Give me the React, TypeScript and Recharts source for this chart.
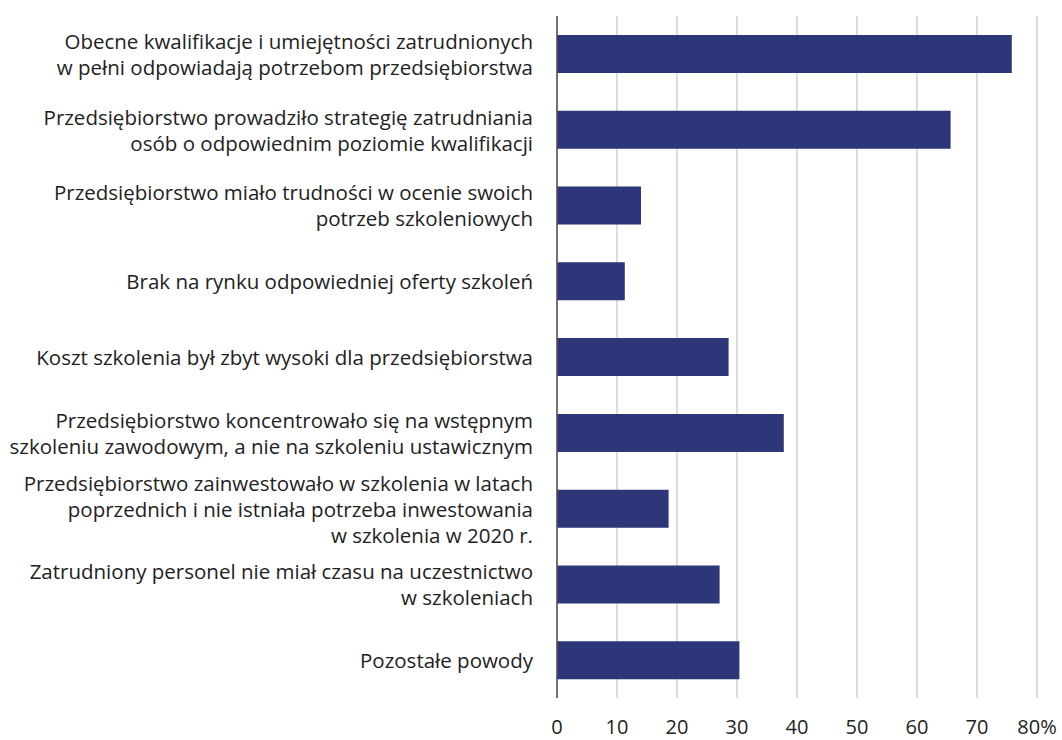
import React from 'react';
import { BarChart, Bar, XAxis, YAxis, CartesianGrid } from 'recharts';

const categories: string[] = [
  'Obecne kwalifikacje i umiejętności zatrudnionych\nw pełni odpowiadają potrzebom przedsiębiorstwa',
  'Przedsiębiorstwo prowadziło strategię zatrudniania\nosób o odpowiednim poziomie kwalifikacji',
  'Przedsiębiorstwo miało trudności w ocenie swoich\npotrzeb szkoleniowych',
  'Brak na rynku odpowiedniej oferty szkoleń',
  'Koszt szkolenia był zbyt wysoki dla przedsiębiorstwa',
  'Przedsiębiorstwo koncentrowało się na wstępnym\nszkoleniu zawodowym, a nie na szkoleniu ustawicznym',
  'Przedsiębiorstwo zainwestowało w szkolenia w latach\npoprzednich i nie istniała potrzeba inwestowania\nw szkolenia w 2020 r.',
  'Zatrudniony personel nie miał czasu na uczestnictwo\nw szkoleniach',
  'Pozostałe powody',
];

const values: number[] = [75.8, 65.6, 14.0, 11.3, 28.6, 37.8, 18.6, 27.1, 30.4];

const xTicks: number[] = [0, 10, 20, 30, 40, 50, 60, 70, 80];

const data = categories.map((name, i) => ({ name, value: values[i] }));

const FONT = '"Open Sans", "Noto Sans", sans-serif';
const TEXT = '#222222';

const CategoryTick = (props: any) => {
  const { x, y, payload } = props;
  const lines: string[] = String(payload.value).split('\n');
  const lh = 26;
  const start = -((lines.length - 1) * lh) / 2 + 8;
  return (
    <text x={x} y={y} textAnchor="end" fill={TEXT} fontSize={20.5} fontFamily={FONT}>
      {lines.map((l, i) => (
        <tspan key={i} x={x} dy={i === 0 ? start : lh}>
          {l}
        </tspan>
      ))}
    </text>
  );
};

export default function App() {
  return (
    <div style={{ position: 'absolute', left: 0, top: 0, background: '#fff' }}>
      <BarChart
        width={1062}
        height={740}
        data={data}
        layout="vertical"
        margin={{ top: 16, right: 25, bottom: 0, left: 0 }}
        barSize={38}
      >
        <CartesianGrid horizontal={false} vertical={true} stroke="#d0d0d0" strokeWidth={1.5} />
        <XAxis
          type="number"
          domain={[0, 80]}
          ticks={xTicks}
          interval={0}
          axisLine={false}
          tickLine={false}
          tickSize={0}
          tickMargin={22}
          height={42}
          tick={{ fill: TEXT, fontSize: 20, fontFamily: FONT }}
          tickFormatter={(v: number) => (v === 80 ? '80%' : String(v))}
        />
        <YAxis
          type="category"
          dataKey="name"
          width={557}
          axisLine={{ stroke: '#505050', strokeWidth: 1.5 }}
          tickLine={false}
          tickSize={0}
          tickMargin={24}
          interval={0}
          tick={<CategoryTick />}
        />
        <Bar dataKey="value" fill="#2c3678" isAnimationActive={false} />
      </BarChart>
    </div>
  );
}
